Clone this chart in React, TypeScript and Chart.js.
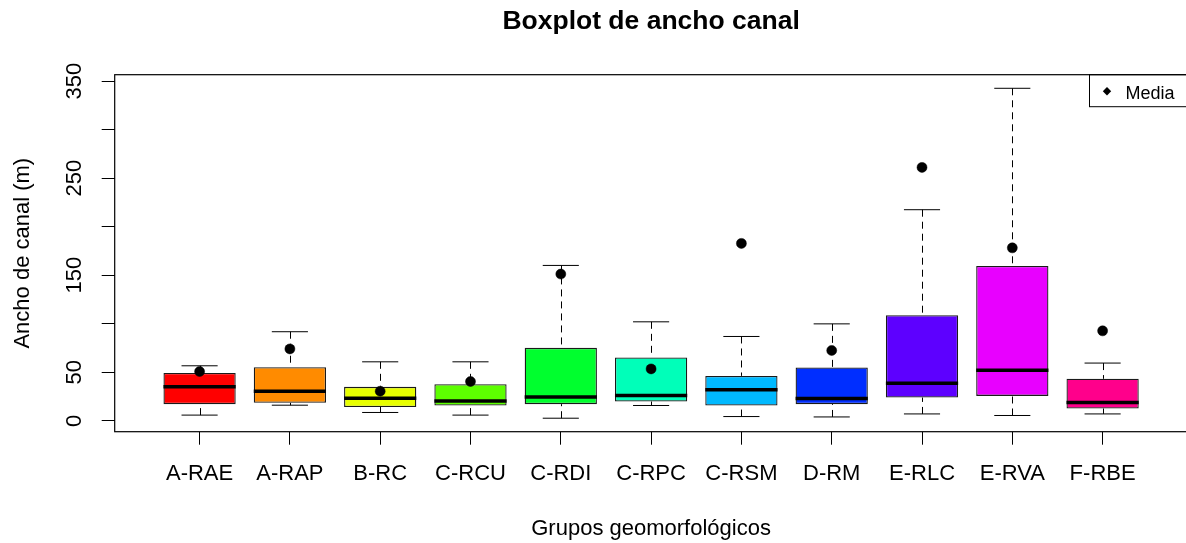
import React, { useEffect, useRef } from 'react';
import { Chart, registerables } from 'chart.js';

Chart.register(...registerables);

// ---- Data ----
const categories = ['A-RAE', 'A-RAP', 'B-RC', 'C-RCU', 'C-RDI', 'C-RPC', 'C-RSM', 'D-RM', 'E-RLC', 'E-RVA', 'F-RBE'];
const lowerWhisker = [5.9, 16.1, 8.6, 5.9, 2.7, 15.8, 4.4, 4.0, 7.1, 5.5, 7.1];
const q1 = [17.2, 18.5, 14.3, 15.8, 17.2, 19.9, 15.8, 17.2, 24.0, 25.7, 12.7];
const median = [35.0, 30.5, 23.3, 20.3, 24.6, 26.1, 31.9, 23.0, 38.8, 52.2, 18.9];
const q3 = [49.2, 55.3, 35.0, 37.8, 75.2, 65.3, 46.3, 54.9, 108.9, 159.5, 43.3];
const upperWhisker = [56.7, 91.8, 60.8, 60.8, 160.1, 102.0, 86.9, 99.9, 217.5, 342.6, 59.5];
const means = [50.8, 74.1, 30.5, 40.5, 151.2, 53.5, 182.8, 72.5, 261.1, 178.2, 92.7];
const boxColors = ['#FF0000', '#FF8B00', '#E8FF00', '#5DFF00', '#00FF2E', '#00FFB9', '#00B9FF', '#002EFF', '#5D00FF', '#E800FF', '#FF008B'];

const yTickValues = [0, 50, 100, 150, 200, 250, 300, 350];
const yTickLabels = ['0', '50', '', '150', '', '250', '', '350'];

const titleText = 'Boxplot de ancho canal';
const xTitleText = 'Grupos geomorfológicos';
const yTitleText = 'Ancho de canal (m)';
const legendText = 'Media';

const FONT = "'Liberation Sans', Arial, Helvetica, sans-serif";

export default function App() {
  const ref = useRef<HTMLCanvasElement | null>(null);

  useEffect(() => {
    const canvas = ref.current;
    if (!canvas) return;

    const boxParts = {
      id: 'boxParts',
      afterDatasetDraw(chart: any, args: any) {
        if (args.meta.type !== 'bar') return;
        const ctx = chart.ctx;
        const xs = chart.scales.x;
        const ys = chart.scales.y;
        ctx.save();
        ctx.strokeStyle = '#000';
        categories.forEach((_, i) => {
          const xv = i + 1;
          const xc = Math.round(xs.getPixelForValue(xv)) + 0.5;
          const capL = xs.getPixelForValue(xv - 0.2);
          const capR = xs.getPixelForValue(xv + 0.2);
          const boxL = xs.getPixelForValue(xv - 0.4);
          const boxR = xs.getPixelForValue(xv + 0.4);
          const yLo = ys.getPixelForValue(lowerWhisker[i]);
          const yHi = ys.getPixelForValue(upperWhisker[i]);
          const yQ1 = ys.getPixelForValue(q1[i]);
          const yQ3 = ys.getPixelForValue(q3[i]);
          const yMed = ys.getPixelForValue(median[i]);
          // dashed whiskers
          ctx.lineWidth = 1;
          ctx.setLineDash([7, 5]);
          ctx.beginPath();
          ctx.moveTo(xc, yHi);
          ctx.lineTo(xc, yQ3);
          ctx.moveTo(xc, yLo);
          ctx.lineTo(xc, yQ1);
          ctx.stroke();
          ctx.setLineDash([]);
          // caps
          ctx.beginPath();
          ctx.moveTo(capL, yHi);
          ctx.lineTo(capR, yHi);
          ctx.moveTo(capL, yLo);
          ctx.lineTo(capR, yLo);
          ctx.stroke();
          // median
          ctx.lineWidth = 3.5;
          ctx.beginPath();
          ctx.moveTo(boxL, yMed);
          ctx.lineTo(boxR, yMed);
          ctx.stroke();
        });
        ctx.restore();
      },
    };

    const frameAndLegend = {
      id: 'frameAndLegend',
      afterDraw(chart: any) {
        const ctx = chart.ctx;
        const a = chart.chartArea;
        ctx.save();
        ctx.strokeStyle = '#000';
        ctx.lineWidth = 1.2;
        ctx.strokeRect(a.left, a.top, a.right - a.left, a.bottom - a.top);
        // legend in the top-right corner of the plot
        const lw = 98;
        const lh = 32;
        const lx = a.right - lw;
        const ly = a.top;
        ctx.lineWidth = 1;
        ctx.strokeRect(lx, ly, lw, lh);
        const dx = lx + 17.5;
        const dy = ly + 16.5;
        const r = 4.2;
        ctx.fillStyle = '#000';
        ctx.beginPath();
        ctx.moveTo(dx, dy - r);
        ctx.lineTo(dx + r, dy);
        ctx.lineTo(dx, dy + r);
        ctx.lineTo(dx - r, dy);
        ctx.closePath();
        ctx.fill();
        ctx.font = `18px ${FONT}`;
        ctx.textBaseline = 'alphabetic';
        ctx.textAlign = 'left';
        ctx.fillText(legendText, lx + 36, ly + 24.6);
        ctx.restore();
      },
    };

    const chart = new Chart(canvas, {
      type: 'bar',
      data: {
        datasets: [
          {
            type: 'bar',
            label: 'box',
            order: 2,
            data: categories.map((_, i) => ({ x: i + 1, y: [q1[i], q3[i]] })) as any,
            backgroundColor: boxColors,
            borderColor: '#1a1a1a',
            borderWidth: 1.3,
            borderSkipped: false,
            barPercentage: 0.8,
            categoryPercentage: 1,
          } as any,
          {
            type: 'scatter',
            label: legendText,
            order: 1,
            data: categories.map((_, i) => ({ x: i + 1, y: means[i] })),
            pointRadius: 5,
            pointStyle: 'circle',
            backgroundColor: '#000',
            borderColor: '#000',
            borderWidth: 0.5,
          } as any,
        ],
      },
      options: {
        animation: false,
        responsive: false,
        maintainAspectRatio: false,
        events: [],
        layout: { padding: 0 },
        plugins: {
          legend: { display: false },
          tooltip: { enabled: false },
          title: {
            display: true,
            text: titleText,
            fullSize: false,
            color: '#000',
            font: { family: FONT, size: 26.5, weight: 'bold', lineHeight: 1.2 },
            padding: { top: 5.4, bottom: 37.5 },
          },
        },
        scales: {
          x: {
            type: 'linear',
            min: 0.06,
            max: 11.94,
            offset: false,
            afterBuildTicks: (scale: any) => {
              scale.ticks = categories.map((_, i) => ({ value: i + 1 }));
            },
            afterFit: (scale: any) => {
              scale.height = 111.3;
            },
            ticks: {
              autoSkip: false,
              minRotation: 0,
              maxRotation: 0,
              padding: 16,
              color: '#000',
              font: { family: FONT, size: 22 },
              callback: (v: any) => categories[Math.round(Number(v)) - 1] ?? '',
            },
            grid: {
              offset: false,
              drawOnChartArea: false,
              drawTicks: true,
              tickLength: 13,
              color: '#000',
              tickWidth: 1,
            },
            border: { display: false },
            title: {
              display: true,
              text: xTitleText,
              color: '#000',
              font: { family: FONT, size: 22, lineHeight: 1.2 },
              padding: { top: 0, bottom: 0.4 },
            },
          },
          y: {
            type: 'linear',
            min: -11.2,
            max: 356.6,
            afterBuildTicks: (scale: any) => {
              scale.ticks = yTickValues.map((v) => ({ value: v }));
            },
            afterFit: (scale: any) => {
              scale.width = 114.7;
            },
            ticks: {
              autoSkip: false,
              minRotation: 90,
              maxRotation: 90,
              crossAlign: 'center',
              padding: 8.6,
              color: '#000',
              font: { family: FONT, size: 22 },
              callback: (v: any) => {
                const idx = yTickValues.indexOf(Number(v));
                return idx >= 0 ? yTickLabels[idx] : '';
              },
            },
            grid: {
              offset: false,
              drawOnChartArea: false,
              drawTicks: true,
              tickLength: 13,
              color: '#000',
              tickWidth: 1,
            },
            border: { display: false },
            title: {
              display: true,
              text: yTitleText,
              color: '#000',
              font: { family: FONT, size: 22, lineHeight: 1.2 },
              padding: { top: 9.5, bottom: 0 },
            },
          },
        },
      } as any,
      plugins: [boxParts, frameAndLegend],
    });

    return () => {
      chart.destroy();
    };
  }, []);

  return (
    <div style={{ position: 'fixed', left: 0, top: 0, width: 1193, height: 543, background: '#fff' }}>
      <canvas ref={ref} width={1193} height={543} style={{ width: 1193, height: 543, display: 'block' }} />
    </div>
  );
}
